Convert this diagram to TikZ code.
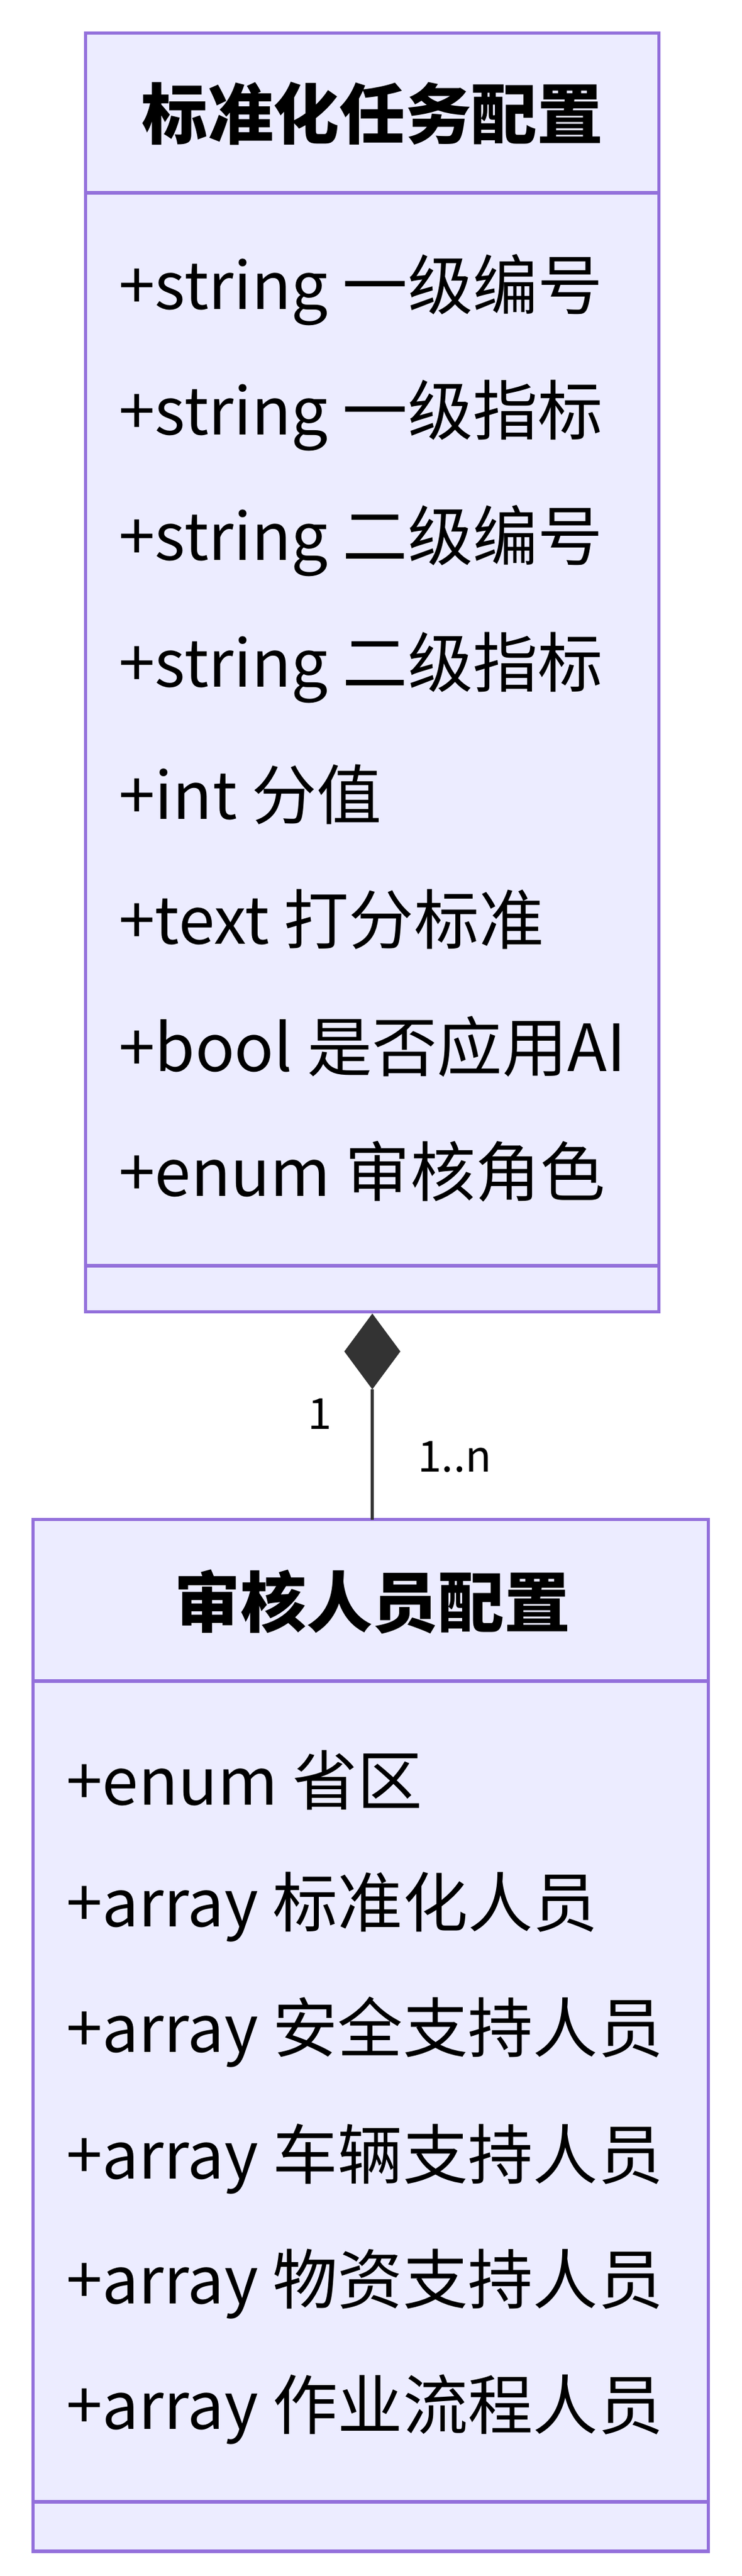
\documentclass[tikz,border=0pt]{standalone}
\usepackage{fontspec}
\setmainfont{Noto Sans CJK SC}
\usetikzlibrary{arrows.meta}
\definecolor{cfill}{HTML}{ECECFF}
\definecolor{cline}{HTML}{9370DB}
\tikzset{x=1pt,y=-1pt,
  boxbg/.style={fill=cfill,draw=cline,line width=2pt},
  divline/.style={draw=cline,line width=2pt},
  attr/.style={anchor=west,inner sep=0pt,font=\fontsize{39.5}{44}\selectfont},
  title/.style={inner sep=0pt,font=\fontsize{40}{44}\selectfont\bfseries},
  lbl/.style={inner sep=0pt,font=\fontsize{26}{30}\selectfont}}
\begin{document}
\begin{tikzpicture}
\useasboundingbox (0,0) rectangle (450,1563);
% box 1
\draw[boxbg] (52,20) rectangle (400,796);
\draw[divline] (52,117) -- (400,117);
\draw[divline] (52,768) -- (400,768);
\node[title] (t1) at (226,69) {标准化任务配置};
\node[attr] (a1) at (72,176) {+string 一级编号};
\node[attr] (a2) at (72,252) {+string 一级指标};
\node[attr] (a3) at (72,328) {+string 二级编号};
\node[attr] (a4) at (72,405) {+string 二级指标};
\node[attr] (a5) at (72,482) {+int 分值};
\node[attr] (a6) at (72,558) {+text 打分标准};
\node[attr] (a7) at (72,635) {+bool 是否应用AI};
\node[attr] (a8) at (72,711) {+enum 审核角色};
% box 2
\draw[boxbg] (20,922) rectangle (430,1548);
\draw[divline] (20,1020) -- (430,1020);
\draw[divline] (20,1518) -- (430,1518);
\node[title] (t2) at (226,972) {审核人员配置};
\node[attr] (b1) at (40,1080) {+enum 省区};
\node[attr] (b2) at (40,1157) {+array 标准化人员};
\node[attr] (b3) at (40,1233) {+array 安全支持人员};
\node[attr] (b4) at (40,1310) {+array 车辆支持人员};
\node[attr] (b5) at (40,1386) {+array 物资支持人员};
\node[attr] (b6) at (40,1462) {+array 作业流程人员};
% connector
\coordinate (top) at (226,797);
\coordinate (dbot) at (226,843);
\coordinate (bot) at (226,922);
\draw[line width=2pt,color=black!80] (dbot) -- (bot);
\fill[black!80] (top) -- (243,820) -- (dbot) -- (209,820) -- cycle;
\node[lbl] (m1) at (194,858) {1};
\node[lbl] (m2) at (276,884) {1..n};
\end{tikzpicture}
\end{document}
